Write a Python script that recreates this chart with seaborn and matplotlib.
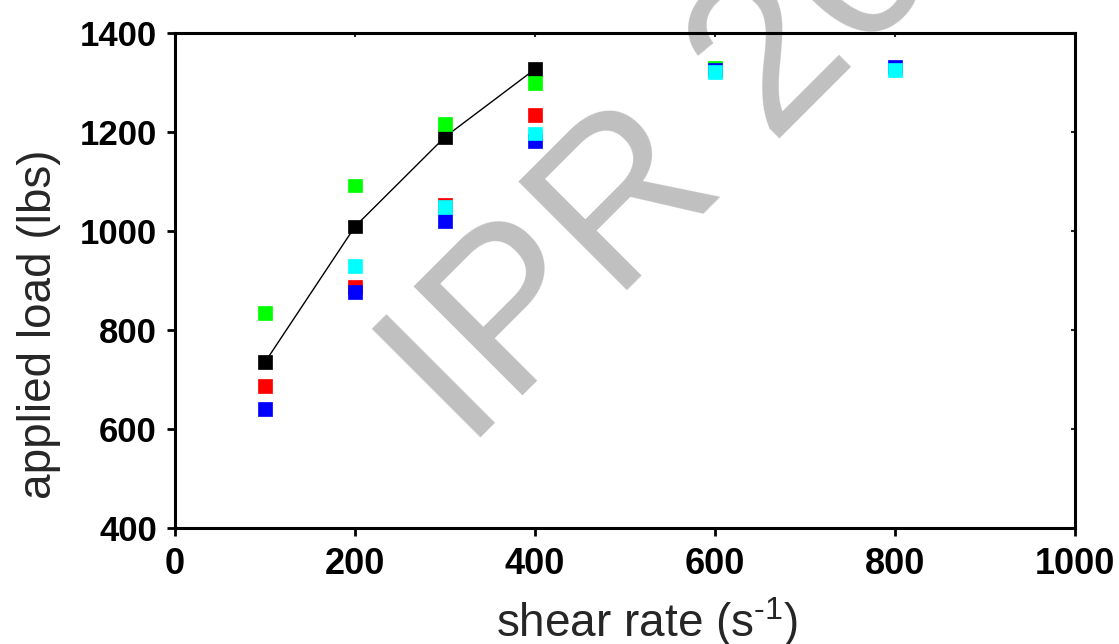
import matplotlib
matplotlib.use("Agg")
import matplotlib.pyplot as plt
import seaborn as sns
import pandas as pd

# Applied load (lbs) versus shear rate (1/s) for five test series
black_rate = [100, 200, 300, 400]
black_load = [735, 1009, 1190, 1327]
red_rate = [100, 200, 300, 400]
red_load = [686, 886, 1052, 1234]
green_rate = [100, 200, 300, 400, 600]
green_load = [835, 1092, 1217, 1299, 1329]
blue_rate = [100, 200, 300, 400, 600, 800]
blue_load = [640, 877, 1021, 1182, 1325, 1331]
cyan_rate = [200, 300, 400, 600, 800]
cyan_load = [929, 1048, 1197, 1321, 1326]

x_ticks = [0, 200, 400, 600, 800, 1000]
y_ticks = [400, 600, 800, 1000, 1200, 1400]

series = [
    ("black", black_rate, black_load),
    ("red", red_rate, red_load),
    ("green", green_rate, green_load),
    ("blue", blue_rate, blue_load),
    ("cyan", cyan_rate, cyan_load),
]
palette = {"black": "#000000", "red": "#ff0000", "green": "#00ff00",
           "blue": "#0000ff", "cyan": "#00ffff"}

df = pd.concat(
    [pd.DataFrame({"series": name, "rate": r, "load": l}) for name, r, l in series],
    ignore_index=True,
)

sns.set_theme(style="white")
plt.rcParams["font.family"] = ["Liberation Sans", "DejaVu Sans"]
plt.rcParams["mathtext.fontset"] = "custom"
plt.rcParams["mathtext.rm"] = "Liberation Sans"
plt.rcParams["mathtext.default"] = "regular"

fig = plt.figure(figsize=(11.19, 6.44), dpi=100)
ax = fig.add_axes([175 / 1119, 116 / 644, 900 / 1119, 495 / 644])

# diagonal watermark behind the data
ax.text(467 / 1119, 192 / 644, "IPR 20", transform=fig.transFigure,
        fontsize=160, color="#c0c0c0", rotation=45, rotation_mode="anchor",
        ha="left", va="baseline", zorder=0.5, clip_on=False)

# trend line through the black series
sns.lineplot(x=black_rate, y=black_load, ax=ax, color="black", lw=1.0,
             zorder=1.5, estimator=None, sort=False)

sns.scatterplot(data=df, x="rate", y="load", hue="series", palette=palette,
                marker="s", s=100, linewidth=0.5, edgecolor="face",
                legend=False, ax=ax, zorder=3)

ax.set_xlim(0, 1000)
ax.set_ylim(400, 1400)
ax.set_xticks(x_ticks)
ax.set_yticks(y_ticks)
ax.set_xticklabels([str(v) for v in x_ticks], fontsize=26, fontweight="bold")
ax.set_yticklabels([str(v) for v in y_ticks], fontsize=25, fontweight="bold")

for s in ax.spines.values():
    s.set_linewidth(2.2)
    s.set_color("black")
    s.set_visible(True)

ax.tick_params(axis="both", which="major", direction="out", length=6,
               width=2.0, pad=7, colors="black", bottom=True, left=True,
               top=False, right=False)
ax.tick_params(axis="x", pad=8)

# short inward ticks mirrored on the top and right frame
sec_x = ax.secondary_xaxis("top")
sec_x.set_xticks(x_ticks)
sec_x.tick_params(direction="in", length=3, width=1.5, labeltop=False)
sec_x.spines["top"].set_visible(False)
sec_y = ax.secondary_yaxis("right")
sec_y.set_yticks(y_ticks)
sec_y.tick_params(direction="in", length=3, width=1.5, labelright=False)
sec_y.spines["right"].set_visible(False)

ax.set_xlabel(r"shear rate (s$^{\text{-}1}$)", fontsize=33)
ax.set_ylabel("applied load (lbs)", fontsize=33)
ax.xaxis.set_label_coords(0.525, -0.135)
ax.xaxis.label.set_va("top")
ax.yaxis.set_label_coords(-0.127, 0.412)

fig.savefig("out.png", dpi=100, facecolor="white")
